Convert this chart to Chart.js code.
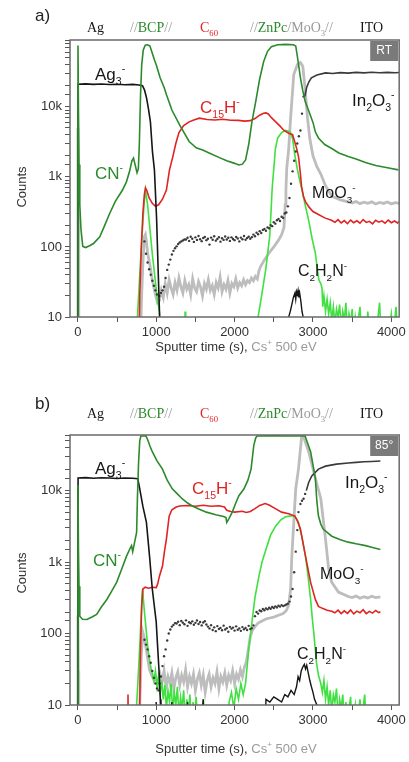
<!DOCTYPE html>
<html>
<head>
<meta charset="utf-8">
<script src="https://cdn.jsdelivr.net/npm/chart.js@4.4.0/dist/chart.umd.min.js"></script>
<style>
  html, body { margin: 0; padding: 0; background: #fff; }
  canvas { display: block; }
</style>
</head>
<body>
<canvas id="chartA" width="409" height="372"></canvas>
<canvas id="chartB" width="409" height="390"></canvas>
<script>
// depth profiles, [sputter time (s), counts]
// panel a) RT
const ag3A = [[-2,1],[3,21000],[100,21300],[200,20900],[300,21200],[400,20800],[500,21000],[600,20700],[700,20900],[780,20500],[825,20000],[850,17500],[876,13500],[900,9500],[926,6100],[952,2300],[977,1260],[990,600],[1005,250],[1020,70],[1035,20],[1045,9],[1055,1]];
const cnA = [[-2,1],[2,75000],[8,9000],[15,1500],[25,400],[40,180],[63,102],[100,98],[150,104],[200,112],[240,125],[280,140],[340,200],[406,300],[480,450],[570,650],[620,850],[660,1200],[690,1700],[710,1850],[730,1500],[755,1150],[772,1300],[785,3000],[800,15000],[815,40000],[835,65000],[860,76000],[890,77000],[920,74000],[950,58000],[980,46000],[1000,40000],[1050,26000],[1100,19000],[1130,15000],[1200,9000],[1300,5500],[1420,3200],[1510,2600],[1600,2400],[1675,2200],[1800,1900],[1900,1700],[2000,1560],[2055,1480],[2100,1520],[2140,1750],[2180,2900],[2220,6000],[2270,12000],[2320,25000],[2370,44000],[2420,62000],[2470,72000],[2550,77000],[2650,78000],[2750,77000],[2780,74000],[2810,45000],[2840,26000],[2870,17000],[2900,12000],[2950,8500],[3000,6000],[3030,4400],[3070,3600],[3150,2900],[3250,2500],[3330,2200],[3450,1950],[3550,1800],[3670,1600],[3800,1450],[3950,1350],[4090,1260]];
const c15hA = [[770,1],[790,20],[810,100],[830,300],[848,550],[863,700],[880,640],[910,500],[950,420],[990,380],[1030,400],[1080,480],[1130,650],[1170,1270],[1210,1900],[1250,3000],[1290,4300],[1350,5400],[1420,6100],[1480,6500],[1550,6900],[1650,6600],[1750,6500],[1850,6650],[1950,6450],[2050,6400],[2130,6250],[2200,6350],[2260,6800],[2320,7600],[2370,8100],[2400,8200],[2430,7900],[2470,7000],[2525,6100],[2580,5300],[2630,4600],[2690,4200],[2740,4000],[2790,2600],[2817,1900],[2840,1100],[2855,720],[2880,520],[2906,440],[2950,370],[3000,320],[3070,290],[3150,260],[3236,240],[3280,225],[3320,245],[3360,220],[3400,238],[3440,215],[3480,242],[3520,222],[3560,236],[3600,218],[3640,246],[3680,224],[3720,232],[3760,214],[3800,240],[3840,226],[3880,236],[3920,218],[3960,242],[4000,222],[4040,235],[4080,220],[4100,230]];
const znpcA = [[740,1],[760,10],[790,40],[820,150],[845,400],[863,650],[890,400],[920,180],[950,80],[980,40],[1010,20],[1040,12],[1055,6],[1060,1],[1360,1],[1368,12],[1376,1],[2270,1],[2300,10],[2350,22],[2400,50],[2450,150],[2480,700],[2500,1300],[2520,2500],[2550,3600],[2600,4300],[2650,4600],[2710,4400],[2740,3500],[2770,2000],[2800,1300],[2830,900],[2860,650],[2900,400],[2945,240],[2990,130],[3030,82],[3060,45],[3075,34],[3100,30],[3115,26],[3125,14],[3140,20],[3160,12],[3180,18],[3200,11],[3220,16],[3240,9],[3260,14],[3280,8],[3300,13],[3320,10],[3340,15],[3360,7],[3380,12],[3400,9],[3420,16],[3440,6],[3460,11],[3480,8],[3500,13],[3520,5],[3540,10],[3560,7],[3600,14],[3620,5],[3650,9],[3680,6],[3700,12],[3720,5],[3760,8],[3800,5],[3850,16],[3870,5],[3920,9],[3950,5],[4000,11],[4020,5],[4060,14],[4080,5]];
const moo3A = [[-3,1],[1,5000],[6,300],[12,10],[20,1],[790,1],[810,15],[830,60],[850,140],[862,150],[875,120],[890,82],[920,55],[950,34],[985,22],[1015,16],[1040,17],[1065,24],[1090,19],[1115,30],[1140,22],[1165,34],[1190,26],[1215,21],[1240,31],[1265,24],[1290,36],[1315,27],[1340,22],[1365,33],[1390,25],[1415,29],[1440,21],[1465,35],[1490,26],[1515,23],[1540,32],[1565,27],[1590,20],[1615,30],[1640,25],[1665,34],[1690,24],[1715,28],[1740,21],[1765,31],[1790,26],[1815,37],[1840,23],[1865,29],[1890,25],[1915,33],[1940,22],[1965,30],[1990,27],[2015,35],[2040,26],[2065,31],[2090,28],[2115,34],[2140,29],[2165,33],[2190,31],[2215,36],[2240,33],[2265,38],[2290,35],[2310,45],[2330,52],[2380,65],[2440,82],[2500,100],[2560,125],[2600,150],[2630,190],[2645,400],[2655,650],[2665,1300],[2690,2500],[2715,7000],[2755,29000],[2800,40000],[2840,43000],[2870,38000],[2900,18000],[2930,7000],[2960,3500],[3000,2000],[3050,1400],[3100,1100],[3160,750],[3240,530],[3350,470],[3450,440],[3500,425],[3550,445],[3600,415],[3650,435],[3700,420],[3750,440],[3800,410],[3850,432],[3900,418],[3950,438],[4000,412],[4050,430],[4100,420]];
const in2o3DotsA = [[850,120],[870,80],[890,60],[910,48],[930,40],[950,33],[970,28],[990,24],[1010,21],[1040,20],[1060,22],[1080,24],[1100,27],[1120,36],[1140,47],[1160,56],[1180,66],[1200,78],[1220,88],[1240,96],[1260,102],[1280,110],[1300,116],[1320,120],[1340,124],[1360,128],[1380,128],[1400,135],[1420,122],[1440,140],[1460,131],[1480,118],[1500,137],[1520,126],[1540,143],[1560,129],[1580,121],[1600,134],[1620,139],[1640,125],[1660,131],[1680,108],[1700,136],[1720,127],[1740,142],[1760,123],[1780,130],[1800,138],[1820,119],[1840,133],[1860,126],[1880,141],[1900,128],[1920,135],[1940,122],[1960,137],[1980,130],[2000,125],[2020,139],[2040,132],[2060,120],[2080,136],[2100,129],[2120,143],[2140,127],[2160,134],[2180,140],[2200,131],[2220,138],[2240,150],[2260,142],[2280,160],[2300,152],[2320,168],[2340,158],[2360,175],[2380,180],[2400,170],[2420,190],[2440,185],[2460,205],[2480,198],[2500,225],[2520,215],[2540,240],[2560,250],[2580,235],[2600,270],[2620,260],[2640,300],[2660,310],[2680,380],[2700,500],[2720,800],[2740,1200],[2760,1700],[2780,2300],[2800,3000],[2820,3800],[2840,4600],[2860,8000],[2880,14000]];
const in2o3A = [[2895,14000],[2920,19000],[2950,23000],[2980,26000],[3050,28500],[3160,30500],[3250,30000],[3350,30800],[3450,30300],[3550,31000],[3650,30500],[3750,31200],[3850,30600],[3950,31000],[4050,30700],[4100,31000]];
const c2h2nA = [[2680,1],[2690,10],[2710,12],[2730,15],[2750,19],[2770,22],[2780,18],[2790,23],[2800,21],[2810,24],[2820,19],[2830,22],[2845,17],[2860,12],[2875,10],[2890,1]];

// panel b) 85 deg
const ag3B = [[-2,1],[3,15000],[100,15200],[200,14900],[300,15100],[400,15000],[500,14800],[600,15000],[700,14900],[765,14700],[790,10600],[830,6000],[875,3600],[915,1200],[950,420],[1000,145],[1020,60],[1040,25],[1055,10],[1065,1]];
const cnB = [[-3,1],[2,12000],[8,1500],[15,460],[25,175],[60,158],[115,157],[180,170],[240,185],[300,235],[370,300],[430,390],[495,520],[560,800],[620,1200],[660,1500],[685,1700],[700,1400],[720,1800],[750,2600],[760,7700],[775,25000],[790,50000],[805,58000],[870,58000],[890,52000],[920,42000],[950,35000],[1010,26000],[1080,20000],[1140,14000],[1205,10600],[1270,9000],[1330,7700],[1400,6700],[1460,6100],[1550,5500],[1640,5000],[1760,4600],[1860,4350],[1890,4200],[1900,3600],[1930,4100],[1970,5000],[2010,6500],[2055,8500],[2120,10600],[2170,14000],[2210,20000],[2245,43000],[2270,55000],[2290,58000],[2500,58500],[2700,58000],[2900,58000],[2935,45000],[2970,35000],[3030,15000],[3050,7000],[3070,4400],[3100,3400],[3130,2900],[3240,2300],[3350,2050],[3450,1900],[3550,1800],[3670,1700],[3760,1600],[3860,1500]];
const c15hB = [[630,1],[640,14],[650,1],[770,1],[790,10],[800,60],[815,250],[830,420],[860,445],[900,430],[950,445],[1000,440],[1020,500],[1040,630],[1080,880],[1105,1400],[1130,2100],[1165,4400],[1200,5400],[1255,5900],[1300,6100],[1400,6200],[1500,6050],[1600,6250],[1700,6050],[1800,6150],[1870,5900],[1900,5300],[1950,5100],[2000,5000],[2100,5150],[2150,4950],[2200,5100],[2260,5600],[2320,6200],[2390,6600],[2440,6300],[2520,5600],[2600,5000],[2690,4750],[2770,4400],[2800,3800],[2840,2900],[2905,1200],[2970,520],[3030,300],[3070,240],[3120,225],[3180,212],[3240,205],[3280,195],[3320,212],[3360,190],[3400,208],[3440,192],[3480,214],[3520,188],[3560,206],[3600,195],[3640,216],[3680,190],[3720,204],[3760,193],[3800,210],[3840,196],[3860,202]];
const znpcB = [[740,1],[750,10],[780,40],[805,150],[825,420],[850,200],[875,103],[895,60],[915,43],[935,32],[950,28],[970,22],[990,30],[1010,18],[1030,25],[1050,14],[1070,22],[1090,12],[1110,19],[1130,9],[1150,16],[1170,11],[1190,20],[1210,8],[1230,15],[1250,10],[1270,18],[1290,7],[1310,13],[1330,9],[1350,16],[1370,6],[1390,12],[1410,8],[1430,14],[1450,5],[1470,11],[1490,7],[1510,13],[1530,5],[1550,10],[1570,6],[1600,12],[1630,5],[1660,9],[1700,1],[1900,1],[1930,11],[1960,15],[1990,9],[2020,17],[2050,12],[2080,20],[2110,14],[2140,20],[2180,60],[2220,140],[2260,320],[2310,630],[2350,1000],[2400,1500],[2460,2400],[2525,3200],[2590,3900],[2650,4300],[2700,4400],[2755,4450],[2790,4000],[2815,3600],[2860,2200],[2905,1200],[2940,600],[2970,300],[2990,170],[3010,103],[3045,39],[3070,26],[3100,20],[3120,15],[3140,22],[3160,12],[3180,18],[3200,10],[3220,16],[3240,8],[3260,14],[3280,11],[3300,17],[3320,7],[3340,12],[3360,9],[3380,14],[3400,6],[3420,11],[3440,5],[3460,9],[3480,13],[3500,5],[3540,10],[3560,5],[3600,12],[3620,6],[3660,14],[3680,5],[3720,1]];
const moo3B = [[-3,1],[1,180],[6,30],[12,1],[770,1],[790,10],[810,50],[830,103],[850,85],[880,54],[915,31],[950,25],[975,22],[1000,24],[1025,19],[1050,27],[1075,21],[1100,30],[1125,18],[1150,25],[1175,20],[1200,28],[1225,17],[1250,24],[1275,29],[1300,19],[1325,26],[1350,21],[1375,31],[1400,18],[1425,25],[1450,20],[1475,27],[1500,16],[1525,23],[1550,28],[1575,19],[1600,26],[1625,15],[1650,22],[1675,27],[1700,18],[1725,24],[1750,20],[1775,29],[1800,17],[1825,25],[1850,21],[1875,28],[1900,19],[1925,26],[1950,22],[1975,30],[2000,20],[2025,27],[2050,23],[2075,31],[2100,25],[2125,34],[2150,40],[2175,60],[2200,90],[2225,110],[2260,125],[2300,140],[2350,150],[2400,160],[2450,165],[2500,170],[2560,180],[2620,190],[2660,210],[2690,250],[2715,420],[2730,1200],[2755,3600],[2780,10600],[2815,20000],[2855,56000],[2880,57000],[2910,45000],[2945,35000],[3030,15000],[3100,7700],[3160,2100],[3200,800],[3240,520],[3325,380],[3450,330],[3500,318],[3550,335],[3600,312],[3650,328],[3700,315],[3750,332],[3800,318],[3860,325]];
const in2o3DotsB = [[850,82],[870,70],[890,60],[910,48],[930,39],[950,30],[970,24],[990,20],[1010,17],[1030,16],[1045,20],[1060,25],[1080,35],[1100,48],[1120,60],[1140,80],[1160,100],[1180,114],[1200,125],[1220,132],[1240,140],[1260,138],[1280,146],[1300,131],[1320,150],[1340,142],[1360,135],[1380,153],[1400,128],[1420,144],[1440,139],[1460,148],[1480,133],[1500,141],[1520,152],[1540,136],[1560,145],[1580,130],[1600,143],[1620,149],[1640,134],[1660,125],[1680,118],[1700,131],[1720,112],[1740,122],[1760,108],[1780,127],[1800,116],[1820,120],[1840,111],[1860,129],[1880,114],[1900,119],[1920,106],[1940,124],[1960,117],[1980,121],[2000,110],[2020,126],[2040,113],[2060,118],[2080,109],[2100,123],[2120,115],[2140,120],[2160,112],[2180,128],[2200,116],[2220,119],[2240,130],[2260,175],[2280,200],[2300,190],[2320,210],[2340,205],[2360,220],[2380,212],[2400,225],[2420,218],[2440,230],[2460,222],[2480,235],[2500,228],[2520,240],[2540,232],[2560,245],[2580,238],[2600,250],[2620,242],[2640,248],[2660,255],[2680,262],[2700,280],[2720,330],[2740,420],[2760,720],[2780,1400],[2800,2800],[2815,5000],[2840,6500],[2860,7200],[2880,7700],[2900,9000]];
const in2o3B = [[2915,10000],[2945,13000],[2985,16000],[3070,20000],[3160,22000],[3300,23500],[3450,24300],[3550,24800],[3650,25300],[3750,25600],[3860,26000]];
const c2h2nB = [[960,1],[1000,11],[1020,1],[1060,12],[1080,1],[1120,10],[1150,1],[1200,11],[1230,1],[1300,10],[1330,1],[1400,11],[1420,1],[1500,10],[1520,1],[1600,12],[1620,1],[1680,10],[1700,1],[2380,1],[2400,12],[2450,11],[2500,13],[2550,12],[2600,11],[2640,14],[2680,13],[2720,16],[2760,14],[2790,18],[2810,25],[2830,22],[2850,30],[2870,34],[2890,37],[2905,32],[2920,36],[2940,28],[2960,22],[2980,18],[3000,15],[3020,12],[3050,10],[3070,1]];

// x ticks every 500 s, labelled every 1000 s
const xTickValues = [0, 500, 1000, 1500, 2000, 2500, 3000, 3500, 4000];

const K = '#161616', DG = '#2c8a2c', RD = '#e02424', LG = '#3fe03f', GR = '#bdbdbd', DK = '#3a3a3a', SL = '#9a9a9a';
const SANS = '"Liberation Sans", Arial, sans-serif';
const SERIF = '"Liberation Serif", "Times New Roman", serif';

const pts = a => a.map(([x, y]) => ({ x, y }));

function rich(ctx, x, y, parts, size, family) {
  ctx.textAlign = 'left';
  ctx.textBaseline = 'alphabetic';
  for (const [t, color, kind] of parts) {
    const s = kind ? size * 0.62 : size;
    const dy = kind === 'sub' ? size * 0.3 : kind === 'sup' ? -size * 0.45 : 0;
    ctx.font = s + 'px ' + family;
    ctx.fillStyle = color;
    ctx.fillText(t, x, y + dy);
    x += ctx.measureText(t).width;
  }
}
function richWidth(ctx, parts, size, family) {
  let w = 0;
  for (const [t, , kind] of parts) {
    ctx.font = (kind ? size * 0.62 : size) + 'px ' + family;
    w += ctx.measureText(t).width;
  }
  return w;
}

const header = [
  [87, [['Ag', K]]],
  [130, [['//', SL], ['BCP', DG], ['//', SL]]],
  [200, [['C', RD], ['60', RD, 'sub']]],
  [250, [['//', SL], ['ZnPc', DG], ['/MoO', SL], ['3', SL, 'sub'], ['//', SL]]],
  [360, [['ITO', K]]]
];
const xTitle = [['Sputter time (s), ', '#333'], ['Cs', SL], ['+', SL, 'sup'], [' 500 eV', SL]];

const panelText = {
  chartA: {
    letter: 'a)', letterY: 21, headerY: 32, tag: 'RT', countsY: 187, titleY: 351,
    labels: [
      [95, 80, 17, [['Ag', K], ['3', K, 'sub'], ['-', K, 'sup']]],
      [95, 179, 17, [['CN', DG], ['-', DG, 'sup']]],
      [200, 113, 17, [['C', RD], ['15', RD, 'sub'], ['H', RD], ['-', RD, 'sup']]],
      [352, 106, 17, [['In', K], ['2', K, 'sub'], ['O', K], ['3', K, 'sub'], ['-', K, 'sup']]],
      [312, 198, 16, [['MoO', K], ['3', K, 'sub'], ['-', K, 'sup']]],
      [298, 276, 16, [['C', K], ['2', K, 'sub'], ['H', K], ['2', K, 'sub'], ['N', K], ['-', K, 'sup']]]
    ]
  },
  chartB: {
    letter: 'b)', letterY: 37, headerY: 46, tag: '85°', countsY: 201, titleY: 381,
    labels: [
      [95, 102, 17, [['Ag', K], ['3', K, 'sub'], ['-', K, 'sup']]],
      [93, 194, 17, [['CN', DG], ['-', DG, 'sup']]],
      [192, 122, 17, [['C', RD], ['15', RD, 'sub'], ['H', RD], ['-', RD, 'sup']]],
      [345, 116, 17, [['In', K], ['2', K, 'sub'], ['O', K], ['3', K, 'sub'], ['-', K, 'sup']]],
      [320, 207, 16, [['MoO', K], ['3', K, 'sub'], ['-', K, 'sup']]],
      [297, 287, 16, [['C', K], ['2', K, 'sub'], ['H', K], ['2', K, 'sub'], ['N', K], ['-', K, 'sup']]]
    ]
  }
};

const textLayer = {
  id: 'textLayer',
  afterDraw(chart) {
    const cfg = panelText[chart.canvas.id];
    const ctx = chart.ctx, a = chart.chartArea;
    ctx.save();
    ctx.strokeStyle = '#6a6a6a';
    ctx.lineWidth = 1.5;
    ctx.strokeRect(a.left, a.top, a.right - a.left, a.bottom - a.top);

    ctx.fillStyle = '#7a7a7a';
    ctx.fillRect(a.right - 29, a.top + 1, 28, 20);
    ctx.fillStyle = '#fff';
    ctx.font = '12px ' + SANS;
    ctx.textAlign = 'center';
    ctx.textBaseline = 'middle';
    ctx.fillText(cfg.tag, a.right - 15, a.top + 11);

    ctx.fillStyle = '#222';
    ctx.font = '17px ' + SANS;
    ctx.textAlign = 'left';
    ctx.textBaseline = 'alphabetic';
    ctx.fillText(cfg.letter, 35, cfg.letterY);

    for (const [x, parts] of header) rich(ctx, x, cfg.headerY, parts, 14, SERIF);
    for (const [x, y, size, parts] of cfg.labels) rich(ctx, x, y, parts, size, SANS);

    const w = richWidth(ctx, xTitle, 13, SANS);
    rich(ctx, 236 - w / 2, cfg.titleY, xTitle, 13, SANS);

    ctx.translate(22, cfg.countsY);
    ctx.rotate(-Math.PI / 2);
    ctx.fillStyle = '#333';
    ctx.font = '13px ' + SANS;
    ctx.textAlign = 'center';
    ctx.textBaseline = 'middle';
    ctx.fillText('Counts', 0, 0);
    ctx.restore();
  }
};

function line(data, color, width) {
  return { data: pts(data), borderColor: color, borderWidth: width, pointRadius: 0, tension: 0, fill: false };
}

function makeChart(id, s, yMax, top, xHeight) {
  new Chart(document.getElementById(id), {
    type: 'line',
    data: {
      // first dataset is drawn on top
      datasets: [
        line(s.cn, DG, 1.6),
        line(s.ag3, K, 1.6),
        line(s.c2h2n, K, 1.4),
        line(s.in2o3, DK, 1.6),
        { data: pts(s.dots), showLine: false, pointRadius: 1.2, pointBackgroundColor: DK, pointBorderWidth: 0, borderColor: DK },
        line(s.c15h, RD, 1.6),
        line(s.znpc, LG, 1.6),
        line(s.moo3, GR, 2.8)
      ]
    },
    options: {
      responsive: false,
      animation: false,
      devicePixelRatio: 1,
      layout: { padding: { top: top, right: 8, left: 0, bottom: 0 } },
      plugins: { legend: { display: false }, tooltip: { enabled: false } },
      scales: {
        x: {
          type: 'linear', min: -100, max: 4100,
          afterFit: sc => { sc.height = xHeight; },
          afterBuildTicks: sc => { sc.ticks = xTickValues.map(v => ({ value: v })); },
          grid: { drawOnChartArea: false, drawTicks: true, tickLength: 5, color: '#555' },
          border: { display: false },
          ticks: {
            autoSkip: false, maxRotation: 0, minRotation: 0, padding: 3,
            color: '#333', font: { family: SANS, size: 13 },
            callback: v => (Math.round(v) % 1000 === 0 ? String(Math.round(v)) : '')
          }
        },
        y: {
          type: 'logarithmic', min: 10, max: yMax,
          afterFit: sc => { sc.width = 70; },
          grid: { drawOnChartArea: false, drawTicks: true, tickLength: 5, color: '#555' },
          border: { display: false },
          ticks: {
            autoSkip: false, padding: 3, color: '#333', font: { family: SANS, size: 13 },
            callback: v => {
              const l = Math.log10(v);
              if (Math.abs(l - Math.round(l)) > 1e-6) return '';
              return v >= 1000 ? (v / 1000) + 'k' : String(v);
            }
          }
        }
      }
    },
    plugins: [textLayer]
  });
}

makeChart('chartA', { ag3: ag3A, c2h2n: c2h2nA, in2o3: in2o3A, dots: in2o3DotsA, cn: cnA, c15h: c15hA, znpc: znpcA, moo3: moo3A }, 90000, 40, 55);
makeChart('chartB', { ag3: ag3B, c2h2n: c2h2nB, in2o3: in2o3B, dots: in2o3DotsB, cn: cnB, c15h: c15hB, znpc: znpcB, moo3: moo3B }, 60000, 63, 57);
</script>
</body>
</html>
